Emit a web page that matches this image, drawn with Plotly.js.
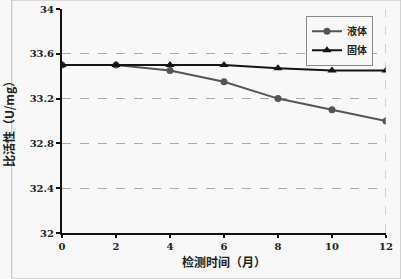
<!DOCTYPE html>
<html>
<head>
<meta charset="utf-8">
<script src="https://cdn.plot.ly/plotly-3.0.1.min.js"></script>
<style>html,body{margin:0;padding:0;background:#f8f8f8;}#chart{width:401px;height:279px;}</style>
</head>
<body>
<div id="chart"></div>
<script>
const months = [0, 2, 4, 6, 8, 10, 12];
const liquid = [33.5, 33.5, 33.45, 33.35, 33.2, 33.1, 33.0];
const solid = [33.5, 33.5, 33.5, 33.5, 33.47, 33.45, 33.45];
const seriesNames = ['液体', '固体'];
const yTicks = [32, 32.4, 32.8, 33.2, 33.6, 34];
const yTickText = ['32', '32.4', '32.8', '33.2', '33.6', '34'];
const xTicks = [0, 2, 4, 6, 8, 10, 12];

const tickFont = {family: 'DejaVu Serif, Liberation Serif, serif', size: 10, color: '#222', weight: 'bold'};
const cjk = 'Noto Sans CJK SC, sans-serif';

const traces = [
  {x: months, y: liquid, name: seriesNames[0], type: 'scatter', mode: 'lines+markers',
   line: {color: '#555555', width: 2}, marker: {symbol: 'circle', size: 7, color: '#555555'}},
  {x: months, y: solid, name: seriesNames[1], type: 'scatter', mode: 'lines+markers',
   line: {color: '#151515', width: 2}, marker: {symbol: 'triangle-up', size: 8, color: '#151515'}}
];

const layout = {
  width: 401, height: 279,
  margin: {l: 62, r: 15, t: 9, b: 46},
  paper_bgcolor: '#f8f8f8', plot_bgcolor: '#f8f8f8',
  showlegend: true,
  legend: {x: 0.753, y: 0.97, xanchor: 'left', yanchor: 'top', bgcolor: '#f8f8f8',
    bordercolor: '#888', borderwidth: 1, font: {family: cjk, size: 10, color: '#222', weight: 'bold'},
    tracegroupgap: 0, itemwidth: 30},
  xaxis: {range: [0, 12], tickvals: xTicks, ticktext: xTicks.map(String), showgrid: false, zeroline: false,
    showline: true, linecolor: '#111', linewidth: 2, ticks: 'outside', ticklen: 3, tickcolor: '#111', tickwidth: 2,
    tickfont: tickFont, title: {text: '检测时间（月）', font: {family: cjk, size: 12, color: '#222', weight: 'bold'}, standoff: 8},
    fixedrange: true},
  yaxis: {range: [32, 34], tickvals: yTicks, ticktext: yTickText, showgrid: true, gridcolor: '#aaa', griddash: 'dash', gridwidth: 1,
    zeroline: false, showline: true, linecolor: '#111', linewidth: 2, ticks: 'outside', ticklen: 4, tickcolor: '#111', tickwidth: 2,
    tickfont: tickFont, title: {text: '比活性（U/mg）', font: {family: cjk, size: 12, color: '#222', weight: 'bold'}, standoff: 13},
    fixedrange: true},
  shapes: [
    {type: 'line', xref: 'x', yref: 'paper', x0: 12, x1: 12, y0: 0, y1: 1, line: {color: '#aaa', width: 1, dash: 'dash'}},
    {type: 'rect', xref: 'paper', yref: 'paper', x0: -0.155, x1: 1.046, y0: -0.205, y1: 1.04, line: {color: '#bbb', width: 1}}
  ]
};

Plotly.newPlot('chart', traces, layout, {displayModeBar: false, staticPlot: true});
</script>
</body>
</html>
